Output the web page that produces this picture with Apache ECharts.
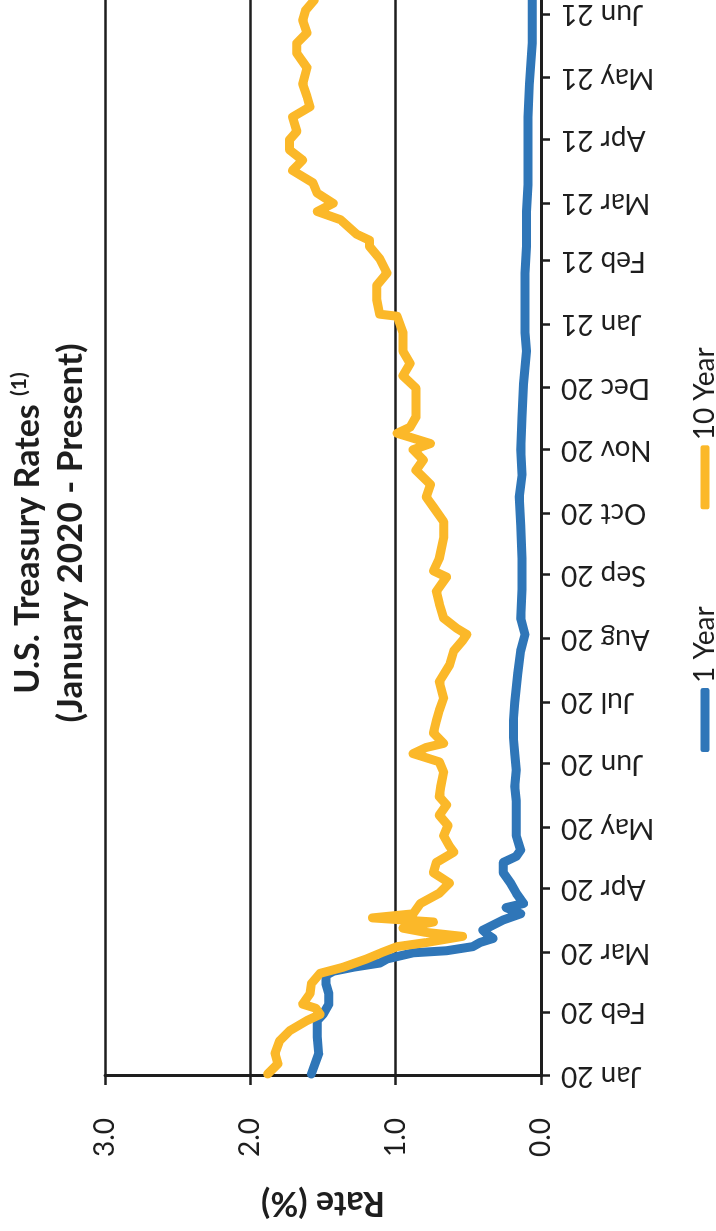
<!DOCTYPE html>
<html>
<head>
<meta charset="utf-8">
<script src="https://cdn.jsdelivr.net/npm/echarts@6/dist/echarts.min.js"></script>
<style>
  html, body { margin: 0; padding: 0; background: #fff; overflow: hidden; }
  body { width: 716px; height: 1231px; position: relative; }
  /* chart is laid out landscape, then turned a quarter turn counter-clockwise */
  #chart {
    position: absolute; left: 0; top: 1231px;
    width: 1231px; height: 716px;
    transform-origin: 0 0; transform: rotate(-90deg);
  }
</style>
</head>
<body>
<div id="chart"></div>
<script>
// axis range (calendar days)
const startDate = '2020-01-01';
const endDate = '2021-06-08';
const monthNames = ['Jan','Feb','Mar','Apr','May','Jun','Jul','Aug','Sep','Oct','Nov','Dec'];
const rateTicks = [0, 1, 2, 3];

// 10 Year treasury rate (%)
const tenYearDates = [
  '2020-01-02','2020-01-07','2020-01-12','2020-01-18','2020-01-23','2020-01-28','2020-01-31',
  '2020-02-03','2020-02-05','2020-02-10','2020-02-15','2020-02-20','2020-02-23','2020-02-27',
  '2020-03-01','2020-03-04','2020-03-06','2020-03-09','2020-03-11','2020-03-13','2020-03-16',
  '2020-03-18','2020-03-20','2020-03-25','2020-03-30','2020-04-04','2020-04-09','2020-04-14',
  '2020-04-19','2020-04-22','2020-04-27','2020-05-02','2020-05-07','2020-05-12','2020-05-16',
  '2020-05-21','2020-05-28','2020-06-02','2020-06-06','2020-06-09','2020-06-11','2020-06-16',
  '2020-06-22','2020-06-27','2020-07-03','2020-07-11','2020-07-19','2020-07-26','2020-07-31',
  '2020-08-03','2020-08-06','2020-08-11','2020-08-18','2020-08-24','2020-08-31','2020-09-03',
  '2020-09-09','2020-09-19','2020-09-27','2020-10-04','2020-10-09','2020-10-15','2020-10-22',
  '2020-10-27','2020-11-01','2020-11-04','2020-11-09','2020-11-12','2020-11-17','2020-11-24',
  '2020-12-01','2020-12-07','2020-12-13','2020-12-19','2020-12-28','2021-01-05','2021-01-06',
  '2021-01-13','2021-01-20','2021-01-26','2021-02-02','2021-02-08','2021-02-11','2021-02-14',
  '2021-02-21','2021-02-25','2021-03-01','2021-03-06','2021-03-11','2021-03-17','2021-03-22',
  '2021-03-27','2021-04-01','2021-04-05','2021-04-12','2021-04-17','2021-04-22','2021-04-28',
  '2021-05-06','2021-05-13','2021-05-18','2021-05-23','2021-05-29','2021-06-03','2021-06-08'
];
const tenYearValues = [
  1.88,1.81,1.83,1.80,1.73,1.61,1.52,
  1.55,1.64,1.59,1.58,1.52,1.36,1.20,
  1.10,0.99,0.79,0.54,0.80,0.95,0.74,
  1.16,0.88,0.83,0.70,0.63,0.74,0.72,
  0.60,0.63,0.67,0.64,0.70,0.65,0.70,
  0.69,0.67,0.70,0.88,0.79,0.67,0.74,
  0.72,0.70,0.67,0.70,0.63,0.60,0.54,
  0.51,0.58,0.67,0.70,0.72,0.65,0.74,
  0.70,0.67,0.67,0.74,0.79,0.76,0.86,
  0.81,0.88,0.76,0.99,0.90,0.86,0.86,
  0.86,0.95,0.90,0.95,0.95,0.99,1.11,
  1.13,1.13,1.06,1.11,1.18,1.18,1.27,
  1.38,1.54,1.43,1.54,1.57,1.71,1.64,
  1.73,1.73,1.68,1.71,1.59,1.61,1.64,
  1.61,1.68,1.68,1.61,1.64,1.62,1.56
];

// 1 Year treasury rate (%)
const oneYearDates = [
  '2020-01-02','2020-01-12','2020-01-20','2020-01-28','2020-01-31','2020-02-05','2020-02-10',
  '2020-02-15','2020-02-19','2020-02-21','2020-02-23','2020-02-25','2020-02-27','2020-03-01',
  '2020-03-02','2020-03-04','2020-03-06','2020-03-08','2020-03-10','2020-03-12','2020-03-17',
  '2020-03-20','2020-03-23','2020-03-25','2020-03-30','2020-04-04','2020-04-09','2020-04-14',
  '2020-04-17','2020-04-20','2020-04-27','2020-05-05','2020-05-14','2020-05-21','2020-05-29',
  '2020-06-06','2020-06-14','2020-06-22','2020-07-01','2020-07-15','2020-07-26','2020-08-03',
  '2020-08-11','2020-08-25','2020-09-09','2020-09-25','2020-10-09','2020-10-20','2020-11-01',
  '2020-11-17','2020-12-03','2020-12-19','2020-12-28','2021-01-06','2021-01-26','2021-02-08',
  '2021-02-25','2021-03-10','2021-03-27','2021-04-12','2021-04-28','2021-05-18','2021-06-08'
];
const oneYearValues = [
  1.58,1.53,1.54,1.54,1.50,1.46,1.46,
  1.48,1.48,1.43,1.29,1.11,1.06,0.88,
  0.65,0.47,0.42,0.33,0.37,0.40,0.26,
  0.14,0.24,0.12,0.17,0.21,0.26,0.26,
  0.17,0.14,0.17,0.17,0.17,0.18,0.17,
  0.18,0.19,0.19,0.18,0.16,0.14,0.11,
  0.14,0.13,0.13,0.14,0.15,0.13,0.14,
  0.13,0.12,0.10,0.11,0.11,0.11,0.10,
  0.10,0.09,0.09,0.09,0.08,0.06,0.06
];

// one category per calendar day so month ticks fall on the 1st
function dayList(from, to) {
  const out = [];
  let t = Date.parse(from + 'T00:00:00Z');
  const end = Date.parse(to + 'T00:00:00Z');
  while (t <= end) {
    out.push(new Date(t).toISOString().slice(0, 10));
    t += 86400000;
  }
  return out;
}
const days = dayList(startDate, endDate);
const isMonthStart = (i, v) => v.slice(8) === '01';
const zip = (a, b) => a.map((d, i) => [d, b[i]]);

const FONT = 'Lato';
const INK = '#1e1e1e';
const BLUE = '#2f76b8';
const GOLD = '#fbb829';

const chart = echarts.init(document.getElementById('chart'), null, { renderer: 'canvas' });
chart.setOption({
  animation: false,
  backgroundColor: '#fff',
  title: [
    {
      text: 'U.S. Treasury Rates {s|(1)}',
      left: 693, top: 4, textAlign: 'center',
      textStyle: {
        fontFamily: FONT, fontWeight: 'bold', fontSize: 34, color: INK, lineHeight: 38,
        rich: { s: { fontFamily: FONT, fontSize: 21, color: INK, verticalAlign: 'top', lineHeight: 38, padding: [0, 0, 14, 0] } }
      }
    },
    {
      text: '(January 2020 - Present)',
      left: 693, top: 47, textAlign: 'center',
      textStyle: { fontFamily: FONT, fontWeight: 'bold', fontSize: 35, color: INK, lineHeight: 38 }
    }
  ],
  legend: {
    left: 474, top: 686,
    icon: 'roundRect', itemWidth: 64, itemHeight: 9, itemGap: 97,
    textStyle: { fontFamily: FONT, fontSize: 28, color: INK },
    data: ['1 Year', '10 Year']
  },
  grid: { left: 155, right: 0, top: 105, bottom: 175, containLabel: false, outerBoundsMode: 'none' },
  xAxis: {
    type: 'category',
    data: days,
    boundaryGap: false,
    axisLine: { lineStyle: { color: INK, width: 3 } },
    axisTick: { show: true, interval: isMonthStart, length: 9, lineStyle: { color: INK, width: 2.5 } },
    axisLabel: {
      interval: isMonthStart, rotate: 90, margin: 20,
      fontFamily: FONT, fontSize: 28, color: INK,
      formatter: v => monthNames[+v.slice(5, 7) - 1] + ' ' + v.slice(2, 4)
    },
    splitLine: { show: false }
  },
  yAxis: {
    type: 'value',
    min: rateTicks[0], max: rateTicks[rateTicks.length - 1], interval: 1,
    name: 'Rate (%)', nameLocation: 'middle', nameGap: 110,
    nameTextStyle: { fontFamily: FONT, fontWeight: 'bold', fontSize: 34, color: INK },
    axisLine: { show: true, lineStyle: { color: INK, width: 3 } },
    axisTick: { show: true, length: 9, lineStyle: { color: INK, width: 2.5 } },
    axisLabel: { margin: 42, fontFamily: FONT, fontSize: 28, color: INK, formatter: v => v.toFixed(1) },
    splitLine: { show: true, lineStyle: { color: INK, width: 2.5 } }
  },
  series: [
    {
      name: '1 Year', type: 'line', data: zip(oneYearDates, oneYearValues),
      showSymbol: false, symbol: 'none', color: BLUE,
      lineStyle: { color: BLUE, width: 9, join: 'round', cap: 'round' }, z: 3
    },
    {
      name: '10 Year', type: 'line', data: zip(tenYearDates, tenYearValues),
      showSymbol: false, symbol: 'none', color: GOLD,
      lineStyle: { color: GOLD, width: 9, join: 'round', cap: 'round' }, z: 4
    }
  ]
});
</script>
</body>
</html>
